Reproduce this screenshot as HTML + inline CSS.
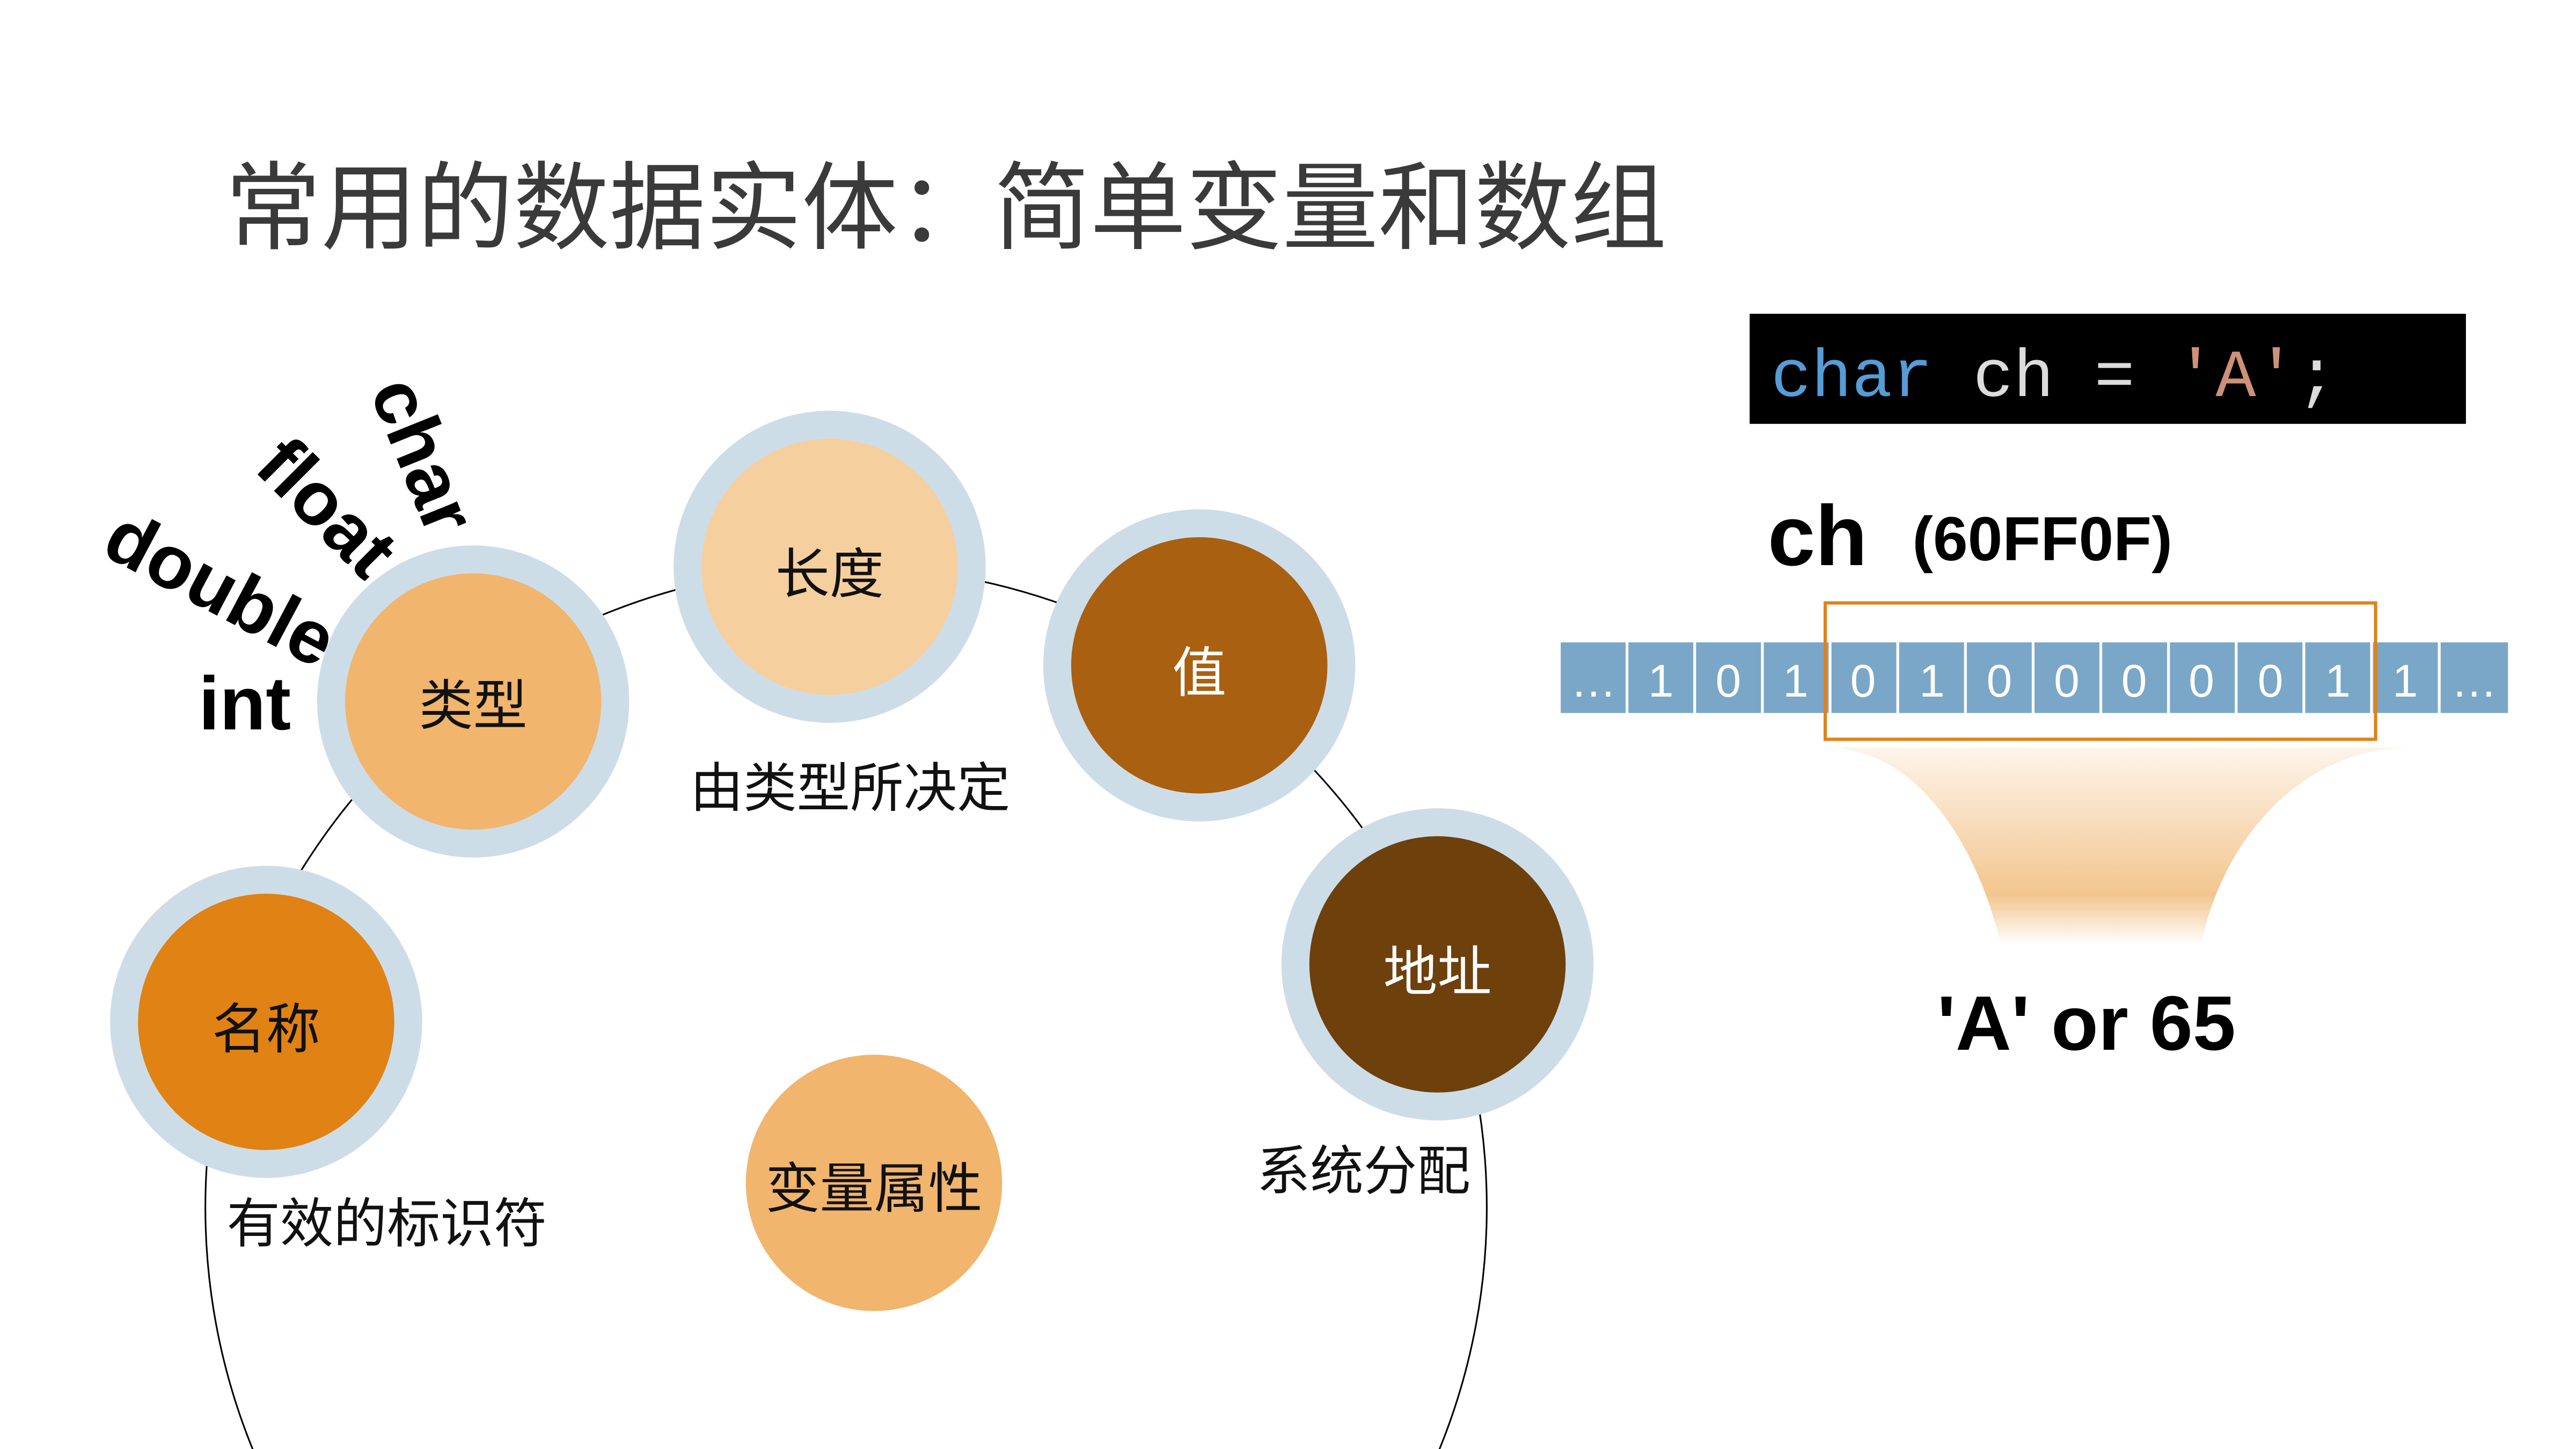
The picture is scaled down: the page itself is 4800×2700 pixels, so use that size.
<!DOCTYPE html>
<html><head><meta charset="utf-8"><style>
html,body{margin:0;padding:0;background:#fff;width:4800px;height:2700px;overflow:hidden;}
svg{display:block;}
</style></head><body>
<svg width="4800" height="2700" viewBox="0 0 1568 882" xmlns="http://www.w3.org/2000/svg">
<defs>
<linearGradient id="fun" x1="0" y1="0" x2="0" y2="1">
<stop offset="0" stop-color="#fdf4ea"/>
<stop offset="0.75" stop-color="#f3c68f"/>
<stop offset="1" stop-color="#ffffff"/>
</linearGradient>
</defs>
<rect width="1568" height="882" fill="#fff"/>
<text x="137" y="147" font-family="Liberation Sans, Noto Sans CJK SC, sans-serif" font-size="58.5" fill="#3a3a3a">常用的数据实体：简单变量和数组</text>

<circle cx="515" cy="735" r="390" fill="none" stroke="#000" stroke-width="1"/>

<g font-family="Liberation Sans, Noto Sans CJK SC, sans-serif" font-size="33" text-anchor="middle">
<circle cx="288" cy="427" r="95" fill="#cddde8"/><circle cx="288" cy="427" r="78" fill="#f1b56d"/>
<text x="288" y="441" fill="#111">类型</text>
<circle cx="505" cy="345" r="95" fill="#cddde8"/><circle cx="505" cy="345" r="78" fill="#f5cf9e"/>
<text x="505" y="361" fill="#111">长度</text>
<circle cx="730" cy="405" r="95" fill="#cddde8"/><circle cx="730" cy="405" r="78" fill="#a96010"/>
<text x="730" y="421" fill="#fff">值</text>
<circle cx="875" cy="587" r="95" fill="#cddde8"/><circle cx="875" cy="587" r="78" fill="#6d400c"/>
<text x="875" y="603" fill="#fff">地址</text>
<circle cx="162" cy="622" r="95" fill="#cddde8"/><circle cx="162" cy="622" r="78" fill="#e08214"/>
<text x="162" y="638" fill="#111">名称</text>
<circle cx="532" cy="720" r="78" fill="#f1b56d"/>
<text x="532" y="735" fill="#111">变量属性</text>
</g>
<g font-family="Liberation Sans, Noto Sans CJK SC, sans-serif" font-size="32.5" fill="#111">
<text x="420" y="491">由类型所决定</text>
<text x="138" y="756">有效的标识符</text>
<text x="765" y="724">系统分配</text>
</g>

<g font-family="Liberation Sans, DejaVu Sans, sans-serif" font-weight="bold" font-size="46" fill="#000" text-anchor="middle">
<text x="149" y="444">int</text>
<text transform="translate(127,372) rotate(28)">double</text>
<text transform="translate(188,320) rotate(45)">float</text>
<text transform="translate(243,283) rotate(68)">char</text>
</g>

<rect x="1065" y="191" width="436" height="67" fill="#000"/>
<text x="1078" y="241" font-family="Liberation Mono, DejaVu Sans Mono, monospace" font-size="41" xml:space="preserve"><tspan fill="#569cd6">char</tspan><tspan fill="#dcdcdc"> ch = </tspan><tspan fill="#ce9178">'A'</tspan><tspan fill="#dcdcdc">;</tspan></text>

<text x="1076" y="344" font-family="Liberation Sans, DejaVu Sans, sans-serif" font-weight="bold" font-size="52" fill="#000">ch</text>
<text x="1164" y="341" font-family="Liberation Sans, DejaVu Sans, sans-serif" font-weight="bold" font-size="38" fill="#000">(60FF0F)</text>

<path d="M1111,455 L1468,455 C1395,455 1350,520 1340,575 L1218,575 C1205,520 1170,455 1111,455 Z" fill="url(#fun)"/>

<g fill="#7aa7c7">
<rect x="950" y="391" width="39.5" height="43"/><rect x="991.2" y="391" width="39.5" height="43"/>
<rect x="1032.4" y="391" width="39.5" height="43"/><rect x="1073.6" y="391" width="39.5" height="43"/>
<rect x="1114.8" y="391" width="39.5" height="43"/><rect x="1156" y="391" width="39.5" height="43"/>
<rect x="1197.2" y="391" width="39.5" height="43"/><rect x="1238.4" y="391" width="39.5" height="43"/>
<rect x="1279.6" y="391" width="39.5" height="43"/><rect x="1320.8" y="391" width="39.5" height="43"/>
<rect x="1362" y="391" width="39.5" height="43"/><rect x="1403.2" y="391" width="39.5" height="43"/>
<rect x="1444.4" y="391" width="39.5" height="43"/><rect x="1485.6" y="391" width="41" height="43"/>
</g>
<g font-family="Liberation Sans, DejaVu Sans, sans-serif" font-size="28" fill="#fff" text-anchor="middle">
<text x="970" y="424">…</text><text x="1011" y="424">1</text><text x="1052" y="424">0</text><text x="1093" y="424">1</text>
<text x="1134" y="424">0</text><text x="1176" y="424">1</text><text x="1217" y="424">0</text><text x="1258" y="424">0</text>
<text x="1299" y="424">0</text><text x="1340" y="424">0</text><text x="1382" y="424">0</text><text x="1423" y="424">1</text>
<text x="1464" y="424">1</text><text x="1506" y="424">…</text>
</g>
<rect x="1111" y="367" width="335" height="83" fill="none" stroke="#e0821a" stroke-width="2"/>

<text x="1270" y="639" text-anchor="middle" font-family="Liberation Sans, DejaVu Sans, sans-serif" font-weight="bold" font-size="47" fill="#000">'A' or 65</text>
</svg>
</body></html>
